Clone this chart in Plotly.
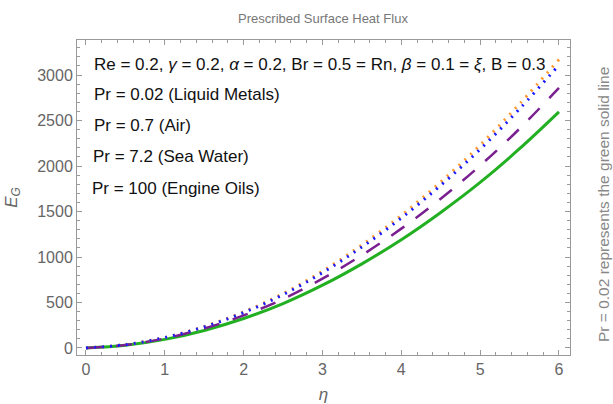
import plotly.graph_objects as go

eta = [0, 0.5, 1, 1.5, 2, 2.5, 3, 3.5, 4, 4.5, 5, 5.5, 6]
eg_liquid_metals = [0, 30, 95, 193, 324, 488, 690, 925, 1190, 1490, 1820, 2190, 2595]
eg_air = [0, 33, 105, 214, 358, 538, 762, 1020, 1312, 1640, 2005, 2410, 2860]
eg_sea_water = [0, 37, 116, 236, 397, 598, 845, 1133, 1458, 1825, 2230, 2683, 3170]
eg_engine_oils = [0, 36, 114, 232, 389, 586, 828, 1110, 1428, 1788, 2184, 2628, 3110]

x_ticks = [0, 1, 2, 3, 4, 5, 6]
y_ticks = [0, 500, 1000, 1500, 2000, 2500, 3000]

title_text = "Prescribed Surface Heat Flux"
param_text = ("Re = 0.2, <i>γ</i> = 0.2, <i>α</i> = 0.2, Br = 0.5 = Rn, "
              "<i>β</i> = 0.1 = <i>ξ</i>, B = 0.3")
label_lines = ["Pr = 0.02 (Liquid Metals)", "Pr = 0.7 (Air)",
               "Pr = 7.2 (Sea Water)", "Pr = 100 (Engine Oils)"]
side_text = "Pr = 0.02 represents the green solid line"

FONT = "Liberation Sans"
frame_col = "#9a9a9a"
tick_font = dict(family=FONT, size=16, color="#666666")

fig = go.Figure()
fig.add_trace(go.Scatter(x=eta, y=eg_liquid_metals, mode="lines", line_shape="spline",
                         line=dict(color="#22b022", width=3), showlegend=False))
fig.add_trace(go.Scatter(x=eta, y=eg_air, mode="lines", line_shape="spline",
                         line=dict(color="#7a1f8f", width=2.5, dash="16px,14px"), showlegend=False))
fig.add_trace(go.Scatter(x=eta, y=eg_sea_water, mode="lines", line_shape="spline",
                         line=dict(color="#ff9a2e", width=3, dash="2px,6px"), showlegend=False))
fig.add_trace(go.Scatter(x=eta, y=eg_engine_oils, mode="lines", line_shape="spline",
                         line=dict(color="#1a1aff", width=3, dash="2px,6px"), showlegend=False))

# text block placed in a 0..1 overlay frame covering the plot area
PLOT_L, PLOT_W, PLOT_B, PLOT_H = 77, 493, 355, 315
text_px_x = [94, 94, 94, 93, 92]
text_px_y = [66, 96, 127, 158, 190]
fig.add_trace(go.Scatter(
    x=[(px - PLOT_L) / PLOT_W for px in text_px_x],
    y=[(PLOT_B - py) / PLOT_H for py in text_px_y],
    mode="text", text=[param_text] + label_lines, textposition="middle right",
    textfont=dict(family=FONT, size=17, color="#111111"),
    xaxis="x2", yaxis="y2", cliponaxis=False, showlegend=False, hoverinfo="skip"))

fig.update_layout(
    xaxis2=dict(range=[0, 1], overlaying="x", visible=False, fixedrange=True),
    yaxis2=dict(range=[0, 1], overlaying="y", visible=False, fixedrange=True),
)

fig.layout.xaxis.update(range=[-0.114, 6.14], tickvals=x_ticks, showgrid=False, zeroline=False,
                        showline=True, linecolor=frame_col, linewidth=1, mirror="allticks",
                        ticks="inside", ticklen=5, tickcolor=frame_col, tickfont=tick_font,
                        minor=dict(dtick=0.2, ticks="inside", ticklen=3, tickcolor=frame_col, showgrid=False),
                        automargin=False,
                        title=dict(text="<i>η</i>", font=dict(family=FONT, size=17, color="#666666"),
                                   standoff=20))
fig.layout.yaxis.update(range=[-77, 3385], tickvals=y_ticks, showgrid=False, zeroline=False,
                        showline=True, linecolor=frame_col, linewidth=1, mirror="allticks",
                        ticks="inside", ticklen=5, tickcolor=frame_col, tickfont=tick_font,
                        minor=dict(dtick=100, ticks="inside", ticklen=3, tickcolor=frame_col, showgrid=False),
                        automargin=False,
                        title=dict(text="<i>E<sub>G</sub></i>", font=dict(family=FONT, size=17, color="#666666"),
                                   standoff=15))

fig.update_layout(
    width=613, height=404,
    margin=dict(l=77, r=43, t=40, b=49),
    paper_bgcolor="white", plot_bgcolor="white",
    title=dict(text=title_text, x=(323) / 613, xanchor="center", y=1 - 18 / 404, yanchor="middle",
               font=dict(family=FONT, size=13, color="#777777")),
    annotations=[dict(text=side_text, xref="paper", yref="paper", x=(603 - 77) / 493,
                      y=(355 - 205) / 315, xanchor="center", yanchor="middle",
                      textangle=-90, showarrow=False,
                      font=dict(family=FONT, size=15.5, color="#888888"))],
)

fig.write_html("out.html")
